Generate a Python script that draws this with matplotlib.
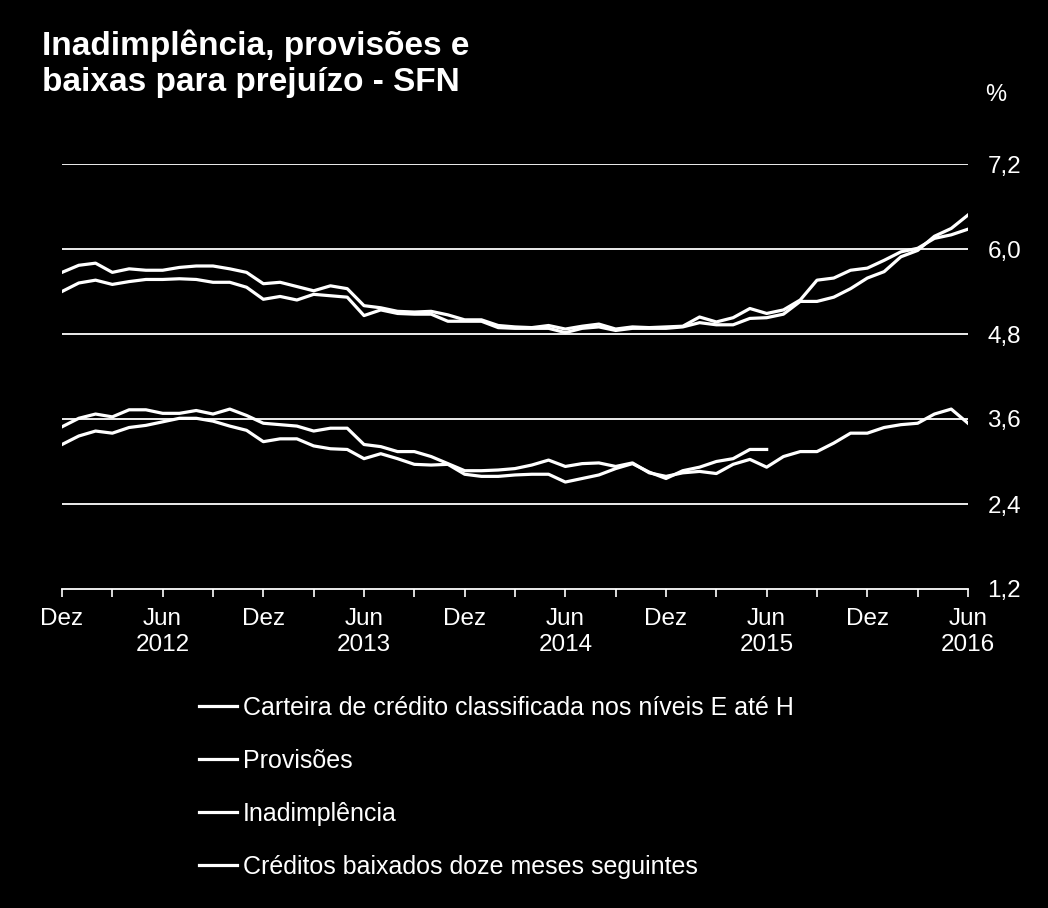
import numpy as np
import matplotlib
matplotlib.use("Agg")
import matplotlib.pyplot as plt

plt.rcParams['font.family'] = ['Liberation Sans', 'DejaVu Sans']

# meses: dez/2011 ate jun/2016
meses = np.arange(55)

provisoes = [5.67, 5.77, 5.80, 5.67, 5.72, 5.70, 5.70, 5.74, 5.76, 5.76,
             5.72, 5.67, 5.51, 5.53, 5.47, 5.41, 5.48, 5.44, 5.20, 5.17,
             5.12, 5.11, 5.12, 5.07, 5.00, 5.00, 4.92, 4.90, 4.89, 4.92,
             4.87, 4.91, 4.94, 4.87, 4.90, 4.89, 4.90, 4.91, 5.04, 4.97,
             5.03, 5.16, 5.09, 5.14, 5.28, 5.56, 5.59, 5.70, 5.73, 5.84,
             5.96, 6.01, 6.15, 6.20, 6.28]

carteira_eh = [5.40, 5.52, 5.56, 5.50, 5.54, 5.57, 5.57, 5.58, 5.57, 5.53,
               5.53, 5.46, 5.29, 5.33, 5.28, 5.36, 5.34, 5.32, 5.06, 5.14,
               5.09, 5.08, 5.08, 4.98, 4.98, 4.98, 4.89, 4.88, 4.88, 4.88,
               4.82, 4.88, 4.90, 4.85, 4.88, 4.88, 4.88, 4.90, 4.96, 4.93,
               4.93, 5.02, 5.03, 5.08, 5.26, 5.26, 5.32, 5.44, 5.59, 5.68,
               5.89, 5.98, 6.18, 6.29, 6.48]

inadimplencia = [3.49, 3.61, 3.67, 3.63, 3.73, 3.73, 3.68, 3.68, 3.72, 3.67,
                 3.74, 3.65, 3.54, 3.52, 3.50, 3.43, 3.47, 3.47, 3.24, 3.21,
                 3.14, 3.14, 3.07, 2.97, 2.87, 2.87, 2.88, 2.90, 2.95, 3.02,
                 2.93, 2.97, 2.98, 2.93, 2.98, 2.84, 2.79, 2.84, 2.86, 2.83,
                 2.96, 3.03, 2.92, 3.07, 3.14, 3.14, 3.26, 3.40, 3.40, 3.48,
                 3.52, 3.54, 3.67, 3.74, 3.54]

baixados = [3.24, 3.36, 3.43, 3.40, 3.48, 3.51, 3.56, 3.61, 3.61, 3.57,
            3.50, 3.44, 3.28, 3.32, 3.32, 3.22, 3.18, 3.17, 3.04, 3.11,
            3.04, 2.96, 2.95, 2.96, 2.82, 2.79, 2.79, 2.81, 2.82, 2.82,
            2.71, 2.76, 2.81, 2.90, 2.97, 2.85, 2.76, 2.87, 2.92, 3.00,
            3.04, 3.17, 3.17] + [np.nan] * 12

rotulos_x = ["Dez", "Jun\n2012", "Dez", "Jun\n2013", "Dez", "Jun\n2014",
             "Dez", "Jun\n2015", "Dez", "Jun\n2016"]
yticks = [1.2, 2.4, 3.6, 4.8, 6.0, 7.2]

nomes = ["Carteira de crédito classificada nos níveis E até H",
         "Provisões",
         "Inadimplência",
         "Créditos baixados doze meses seguintes"]

fig = plt.figure(figsize=(10.48, 9.08), dpi=100, facecolor='black')
ax = fig.add_axes([62/1048, 1-589/908, (968-62)/1048, (589-164)/908])
ax.set_facecolor('black')

lw = 2.3
l1, = ax.plot(meses, carteira_eh, color='white', lw=lw)
l2, = ax.plot(meses, provisoes, color='white', lw=lw)
l3, = ax.plot(meses, inadimplencia, color='white', lw=lw)
l4, = ax.plot(meses, baixados, color='white', lw=lw)

ax.set_xlim(0, 54)
ax.set_ylim(1.2, 7.2)
for v in yticks[1:]:
    ax.axhline(v, color='white', lw=1.3, zorder=0)

for s in ['top', 'left', 'right']:
    ax.spines[s].set_visible(False)
ax.spines['bottom'].set_color('white')
ax.spines['bottom'].set_linewidth(1.3)

ax.yaxis.tick_right()
ax.set_yticks(yticks)
ax.set_yticklabels([("%.1f" % v).replace('.', ',') for v in yticks])
ax.tick_params(axis='y', length=0, pad=14, labelsize=17.5, labelcolor='white')

ax.set_xticks(np.arange(0, 55, 6))
ax.set_xticklabels(rotulos_x)
ax.set_xticks(np.arange(3, 55, 6), minor=True)
ax.tick_params(axis='x', which='both', direction='out', length=6, width=1.2,
               color='white', pad=8, labelsize=17.5, labelcolor='white')

fig.text(985/1048, 1-95/908, "%", color='white', fontsize=17, va='center', ha='left')

fig.text(42/1048, 1-30/908, "Inadimplência, provisões e\nbaixas para prejuízo - SFN",
         color='white', fontsize=24, fontweight='bold', va='top', ha='left',
         linespacing=1.2)

leg = fig.legend([l1, l2, l3, l4], nomes, loc='upper left',
                 bbox_to_anchor=(199/1048, 1-696/908), frameon=False,
                 fontsize=18, handlelength=1.52, handletextpad=0.24,
                 labelspacing=1.16, borderpad=0, borderaxespad=0)
for t in leg.get_texts():
    t.set_color('white')

fig.savefig("out.png", dpi=100, facecolor='black')
